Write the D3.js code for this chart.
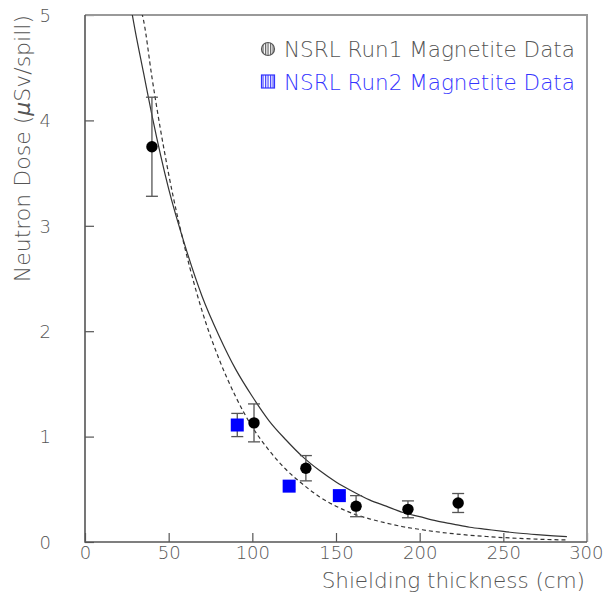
<!DOCTYPE html>
<html lang="en">
<head>
  <meta charset="UTF-8">
  <title>Neutron dose vs shielding thickness</title>
  <style>
    body { margin: 0; background: #fff; }
    svg text { font-family: "DejaVu Sans", sans-serif; font-weight: 200; fill: #555; }
  </style>
  <script src="https://d3js.org/d3.v7.min.js"></script>
</head>
<body>
  <svg id="chart" width="603" height="595"></svg>
  <script>
    // ---- data ----
    const xTicks = [0, 50, 100, 150, 200, 250, 300];
    const yTicks = [0, 1, 2, 3, 4, 5];

    // Run1 (black circles)
    const run1X = [40, 101, 132, 162, 193, 223];
    const run1Y = [3.75, 1.13, 0.70, 0.34, 0.31, 0.37];
    const run1Err = [0.47, 0.18, 0.12, 0.10, 0.08, 0.09];

    // Run2 (blue squares)
    const run2X = [91, 122, 152];
    const run2Y = [1.11, 0.53, 0.44];
    const run2Err = [0.11, 0.03, 0.03];

    // fit curves (solid / dashed)
    const fitX = [26, 30, 35, 40, 50, 60, 70, 80, 90, 100, 110, 120, 130, 140, 150,
                  160, 170, 180, 190, 200, 210, 220, 230, 240, 250, 260, 270, 280, 288];
    const solidY = [5.2, 4.85, 4.45, 4.05, 3.35, 2.8, 2.33, 1.96, 1.64, 1.38, 1.15, 0.97, 0.81, 0.68, 0.57,
                    0.48, 0.40, 0.34, 0.28, 0.24, 0.20, 0.17, 0.14, 0.12, 0.10, 0.083, 0.070, 0.059, 0.051];
    const dashedY = [5.6, 5.2, 4.95, 4.41, 3.49, 2.77, 2.19, 1.74, 1.38, 1.09, 0.87, 0.69, 0.55, 0.43, 0.34,
                     0.27, 0.22, 0.18, 0.145, 0.12, 0.097, 0.079, 0.064, 0.052, 0.042, 0.034, 0.027, 0.022, 0.019];

    const legendLabels = ["NSRL Run1 Magnetite Data", "NSRL Run2 Magnetite Data"];

    // ---- layout ----
    const svg = d3.select("#chart");
    const frame = { left: 85, right: 587, top: 15, bottom: 542 };
    const axisColor = "#555";

    const x = d3.scaleLinear().domain([0, 300]).range([frame.left, frame.right]);
    const y = d3.scaleLinear().domain([0, 5]).range([frame.bottom, frame.top]);

    const defs = svg.append("defs");
    defs.append("clipPath").attr("id", "frameClip")
      .append("rect").attr("x", frame.left).attr("y", frame.top)
      .attr("width", frame.right - frame.left).attr("height", frame.bottom - frame.top);

    // hatch patterns for the legend markers
    function hatch(id, color) {
      const p = defs.append("pattern").attr("id", id)
        .attr("patternUnits", "userSpaceOnUse").attr("width", 2.5).attr("height", 4);
      p.append("rect").attr("width", 2.5).attr("height", 4).attr("fill", "#fff");
      p.append("line").attr("x1", 0.6).attr("x2", 0.6).attr("y1", 0).attr("y2", 4)
        .attr("stroke", color).attr("stroke-width", 1.1);
    }
    hatch("hatchGray", "#555");
    hatch("hatchBlue", "#33f");

    // ---- axes ----
    const xAxis = d3.axisBottom(x).tickValues(xTicks).tickFormat(d3.format("d"))
      .tickSize(-9).tickPadding(4);
    const gx = svg.append("g").attr("transform", `translate(0,${frame.bottom})`).call(xAxis);
    const yAxis = d3.axisLeft(y).tickValues(yTicks).tickFormat(d3.format("d"))
      .tickSize(-9).tickPadding(34);
    const gy = svg.append("g").attr("transform", `translate(${frame.left},0)`).call(yAxis);

    [gx, gy].forEach(g => {
      g.select(".domain").remove();
      g.selectAll(".tick line").attr("stroke", axisColor).attr("stroke-width", 1.2);
      g.selectAll(".tick text")
        .style("font-size", "18px").attr("fill", "#555");
    });
    gy.selectAll(".tick text").attr("dy", "0.35em");
    // keep the last x label inside the page
    gx.selectAll(".tick text").filter(d => d === 300).attr("text-anchor", "end").attr("x", 16);

    // frame
    svg.append("path")
      .attr("d", `M${frame.left},${frame.top}H${frame.right}V${frame.bottom}`)
      .attr("fill", "none").attr("stroke", "#999").attr("stroke-width", 2);
    svg.append("path")
      .attr("d", `M${frame.right},${frame.bottom}H${frame.left}V${frame.top}`)
      .attr("fill", "none").attr("stroke", axisColor).attr("stroke-width", 1.6);

    // axis titles
    svg.append("text")
      .attr("x", frame.right - 2).attr("y", 588)
      .attr("text-anchor", "end")
      .style("font-size", "21.5px")
      .text("Shielding thickness (cm)");

    const yt = svg.append("text")
      .attr("transform", `translate(30,${frame.top}) rotate(-90)`)
      .attr("text-anchor", "end")
      .style("font-size", "22px");
    yt.append("tspan").text("Neutron Dose (");
    yt.append("tspan").style("font-style", "italic").text("μ");
    yt.append("tspan").text("Sv/spill)");

    // ---- fit curves ----
    const plot = svg.append("g").attr("clip-path", "url(#frameClip)");
    const line = d3.line().x(d => x(d[0])).y(d => y(d[1])).curve(d3.curveMonotoneX);

    plot.append("path")
      .datum(fitX.map((v, i) => [v, solidY[i]]))
      .attr("d", line).attr("fill", "none")
      .attr("stroke", "#333").attr("stroke-width", 1.2);

    plot.append("path")
      .datum(fitX.map((v, i) => [v, dashedY[i]]))
      .attr("d", line).attr("fill", "none")
      .attr("stroke", "#333").attr("stroke-width", 1.2)
      .attr("stroke-dasharray", "4,3");

    // ---- error bars ----
    function errorBars(xs, ys, es) {
      const g = plot.append("g").attr("stroke", "#555").attr("stroke-width", 1.3);
      xs.forEach((v, i) => {
        const cx = x(v), y1 = y(ys[i] + es[i]), y2 = y(ys[i] - es[i]);
        g.append("line").attr("x1", cx).attr("x2", cx).attr("y1", y1).attr("y2", y2);
        g.append("line").attr("x1", cx - 6).attr("x2", cx + 6).attr("y1", y1).attr("y2", y1);
        g.append("line").attr("x1", cx - 6).attr("x2", cx + 6).attr("y1", y2).attr("y2", y2);
      });
    }
    errorBars(run2X, run2Y, run2Err);
    errorBars(run1X, run1Y, run1Err);

    // ---- markers ----
    plot.selectAll("rect.run2")
      .data(run2X.map((v, i) => [v, run2Y[i]]))
      .join("rect").attr("class", "run2")
      .attr("x", d => x(d[0]) - 6.5).attr("y", d => y(d[1]) - 6.5)
      .attr("width", 13).attr("height", 13)
      .attr("fill", "#0000ff");

    plot.selectAll("circle.run1")
      .data(run1X.map((v, i) => [v, run1Y[i]]))
      .join("circle").attr("class", "run1")
      .attr("cx", d => x(d[0])).attr("cy", d => y(d[1]))
      .attr("r", 5.7).attr("fill", "#000");

    // ---- legend ----
    const lg = svg.append("g");
    lg.append("circle").attr("cx", 268).attr("cy", 49).attr("r", 6.5)
      .attr("fill", "url(#hatchGray)").attr("stroke", "#555").attr("stroke-width", 1.2);
    lg.append("text").attr("x", 284).attr("y", 56.5)
      .style("font-size", "21.5px").text(legendLabels[0]);

    lg.append("rect").attr("x", 261.5).attr("y", 75).attr("width", 13).attr("height", 13)
      .attr("fill", "url(#hatchBlue)").attr("stroke", "#33f").attr("stroke-width", 1.2);
    lg.append("text").attr("x", 284).attr("y", 89.5)
      .style("font-size", "21.5px").style("fill", "#3333ff").text(legendLabels[1]);
  </script>
</body>
</html>
